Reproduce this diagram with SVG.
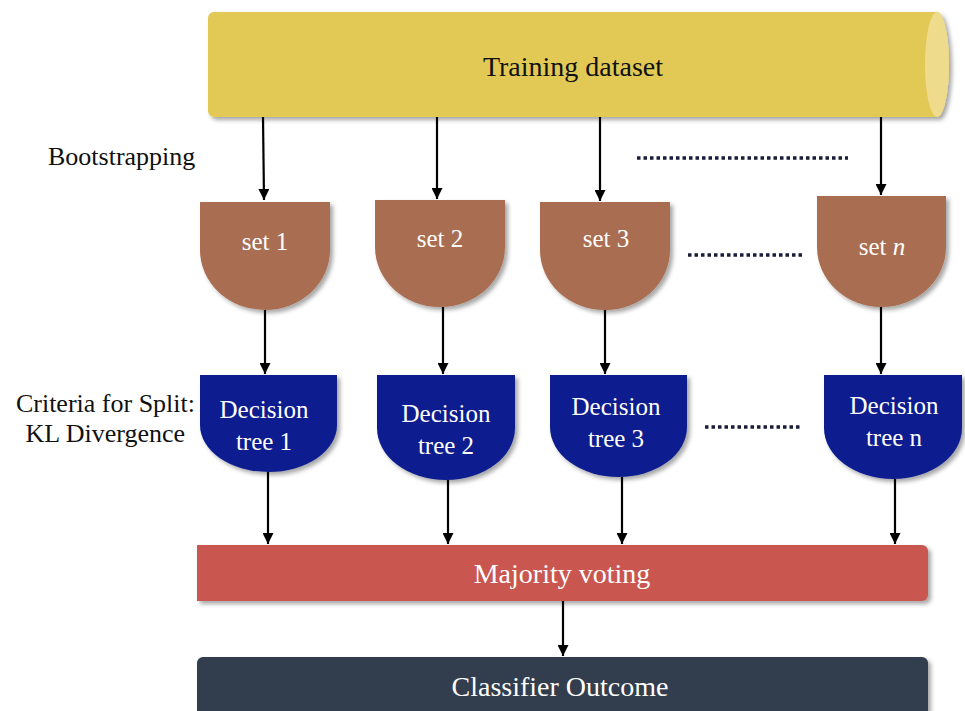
<svg xmlns="http://www.w3.org/2000/svg" width="965" height="711" viewBox="0 0 965 711">
<style>
text{font-family:'Liberation Serif','DejaVu Serif','Times New Roman',serif;}
.w{fill:#ffffff;}
.k{fill:#111111;}
.set{fill:#A96E51;filter:url(#sh);}
.dt{fill:#0B1E8E;filter:url(#sh);}
.ar{stroke:#000;stroke-width:2.2;fill:none;marker-end:url(#ah);}
.dots{stroke:#1b1b3a;stroke-width:3.5;stroke-dasharray:3.5 3;}
</style>
<defs>
<filter id="sh" x="-10%" y="-10%" width="125%" height="130%">
<feDropShadow dx="3" dy="3" stdDeviation="2" flood-color="#000" flood-opacity="0.35"/>
</filter>
<marker id="ah" viewBox="0 0 10 10" refX="10" refY="5" markerWidth="5.5" markerHeight="5" orient="auto" markerUnits="strokeWidth">
<path d="M0,0 L10,5 L0,10 Z" fill="#000"/>
</marker>
</defs>
<rect width="965" height="711" fill="#ffffff"/>

<g id="training">
<path d="M214,12 H937 A12 52.5 0 0 1 937,117 H214 A6 6 0 0 1 208,111 V18 A6 6 0 0 1 214,12 Z" fill="#E2C956" filter="url(#sh)"/>
<ellipse cx="937" cy="64.5" rx="12" ry="52.5" fill="#EEDB8C"/>
<text class="k" x="573" y="76" font-size="28" text-anchor="middle">Training dataset</text>
</g>

<g id="bootstrapping"><text class="k" x="48" y="165" font-size="26">Bootstrapping</text></g>
<g id="criteria">
<text class="k" x="195" y="412" font-size="26" text-anchor="end">Criteria for Split:</text>
<text class="k" x="185" y="442" font-size="26" text-anchor="end">KL Divergence</text>
</g>

<g id="set1"><path class="set" d="M200,202 H330 V250 A65 60 0 0 1 200,250 Z"/><text class="w" x="265" y="250" font-size="25" text-anchor="middle">set 1</text></g>
<g id="set2"><path class="set" d="M375,200 H505 V247 A65 60 0 0 1 375,247 Z"/><text class="w" x="440" y="247" font-size="25" text-anchor="middle">set 2</text></g>
<g id="set3"><path class="set" d="M540,202 H670 V250 A65 60 0 0 1 540,250 Z"/><text class="w" x="606" y="247" font-size="25" text-anchor="middle">set 3</text></g>
<g id="setn"><path class="set" d="M817,196 H946 V247 A64.5 60 0 0 1 817,247 Z"/><text class="w" x="882" y="255" font-size="25" text-anchor="middle">set <tspan font-style="italic">n</tspan></text></g>

<g id="dt1"><path class="dt" d="M200,375 H337 V425 A68.5 47 0 0 1 200,425 Z"/><text class="w" font-size="25" text-anchor="middle"><tspan x="264" y="418">Decision</tspan><tspan x="264" y="450">tree 1</tspan></text></g>
<g id="dt2"><path class="dt" d="M377,375 H515 V428 A69 52 0 0 1 377,428 Z"/><text class="w" font-size="25" text-anchor="middle"><tspan x="446" y="422">Decision</tspan><tspan x="446" y="454">tree 2</tspan></text></g>
<g id="dt3"><path class="dt" d="M550,375 H687 V427 A68.5 50 0 0 1 550,427 Z"/><text class="w" font-size="25" text-anchor="middle"><tspan x="616" y="415">Decision</tspan><tspan x="616" y="447">tree 3</tspan></text></g>
<g id="dtn"><path class="dt" d="M824,375 H962 V428 A69 51 0 0 1 824,428 Z"/><text class="w" font-size="25" text-anchor="middle"><tspan x="894" y="414">Decision</tspan><tspan x="894" y="446">tree n</tspan></text></g>

<g id="majority">
<path d="M197,545 H922 A6 6 0 0 1 928,551 V595 A6 6 0 0 1 922,601 H197 Z" fill="#C95650" filter="url(#sh)"/>
<text class="w" x="562" y="583" font-size="28" text-anchor="middle">Majority voting</text>
</g>
<g id="outcome">
<path d="M203,657 H922 A6 6 0 0 1 928,663 V715 H197 V663 A6 6 0 0 1 203,657 Z" fill="#323C4E" filter="url(#sh)"/>
<text class="w" x="560" y="696" font-size="28" text-anchor="middle">Classifier Outcome</text>
</g>

<g id="ellipses">
<line class="dots" x1="637" y1="158" x2="848" y2="158"/>
<line class="dots" x1="688" y1="255" x2="803" y2="255"/>
<line class="dots" x1="705" y1="427" x2="802" y2="427"/>
</g>

<g id="connectors">
<line class="ar" x1="263" y1="117" x2="264" y2="200"/>
<line class="ar" x1="437" y1="117" x2="437" y2="199"/>
<line class="ar" x1="600" y1="117" x2="600" y2="201"/>
<line class="ar" x1="881" y1="117" x2="881" y2="195"/>
<line class="ar" x1="265" y1="310" x2="265" y2="374"/>
<line class="ar" x1="443" y1="307" x2="443" y2="374"/>
<line class="ar" x1="605" y1="310" x2="605" y2="374"/>
<line class="ar" x1="881" y1="307" x2="881" y2="374"/>
<line class="ar" x1="268" y1="472" x2="268" y2="544"/>
<line class="ar" x1="448" y1="480" x2="448" y2="544"/>
<line class="ar" x1="622" y1="477" x2="622" y2="544"/>
<line class="ar" x1="895" y1="479" x2="895" y2="544"/>
<line class="ar" x1="563" y1="601" x2="563" y2="656"/>
</g>
</svg>
